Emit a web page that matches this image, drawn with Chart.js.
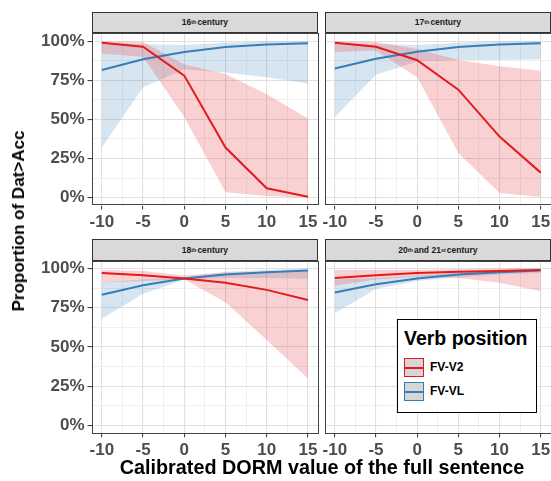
<!DOCTYPE html>
<html>
<head>
<meta charset="utf-8">
<script src="https://cdn.jsdelivr.net/npm/chart.js@4.4.1/dist/chart.umd.min.js"></script>
<style>
  html,body{margin:0;padding:0;background:#fff;}
  #wrap{position:relative;width:551px;height:481px;overflow:hidden;font-family:"Liberation Sans",Arial,sans-serif;}
  #wrap canvas{position:absolute;left:0;top:0;}
  .strip{position:absolute;box-sizing:border-box;background:#d9d9d9;border:1px solid #333;
    font-weight:bold;font-size:8.5px;color:#1a1a1a;display:flex;align-items:center;justify-content:center;}
  .strip sup{font-size:5.5px;vertical-align:3px;margin-right:1px;}
  .ttl{position:absolute;font-weight:bold;color:#000;white-space:nowrap;}
  #legend{position:absolute;left:397px;top:319px;width:140px;height:94px;box-sizing:border-box;border:1px solid #000;background:#fff;}
  #legend .lt{position:absolute;left:6px;top:7px;font-size:19.5px;font-weight:bold;}
  #legend .key{position:absolute;left:6px;width:20px;height:19px;box-sizing:border-box;background:#d6d6d6;border:1.5px solid;}
  #legend .key i{position:absolute;left:0;right:0;top:7.5px;height:2px;}
  #legend .lab{position:absolute;left:32px;font-size:12px;font-weight:bold;}
</style>
</head>
<body>
<div id="wrap">
  <canvas id="c1" width="551" height="481"></canvas>
  <canvas id="c2" width="551" height="481"></canvas>
  <canvas id="c3" width="551" height="481"></canvas>
  <canvas id="c4" width="551" height="481"></canvas>

  <div class="strip" style="left:91.5px;top:11.7px;width:226.8px;height:21.6px">16<sup>th</sup> century</div>
  <div class="strip" style="left:324.5px;top:11.7px;width:226.8px;height:21.6px">17<sup>th</sup> century</div>
  <div class="strip" style="left:91.5px;top:239.3px;width:226.8px;height:21.6px">18<sup>th</sup> century</div>
  <div class="strip" style="left:324.5px;top:239.3px;width:226.8px;height:21.6px">20<sup>th</sup> and 21<sup>st</sup> century</div>

  <div class="ttl" id="ytitle" style="font-size:17px;left:19px;top:221px;transform:translate(-50%,-50%) rotate(-90deg);">Proportion of Dat&gt;Acc</div>
  <div class="ttl" id="xtitle" style="font-size:19.8px;left:322px;top:467px;transform:translate(-50%,-50%);">Calibrated DORM value of the full sentence</div>

  <div id="legend">
    <div class="lt">Verb position</div>
    <div class="key" style="top:38px;border-color:#e41a1c"><i style="background:#e41a1c"></i></div>
    <div class="lab" style="top:40px">FV-V2</div>
    <div class="key" style="top:62px;border-color:#377eb8"><i style="background:#377eb8"></i></div>
    <div class="lab" style="top:64px">FV-VL</div>
  </div>
</div>
<script>
// x = calibrated DORM value
const xVals = [-10, -5, 0, 5, 10, 15];
const xTicks = [-10, -7.5, -5, -2.5, 0, 2.5, 5, 7.5, 10, 12.5, 15];
const yTicks = [0, 0.125, 0.25, 0.375, 0.5, 0.625, 0.75, 0.875, 1];

// 16th century
const v2_16    = [0.99, 0.964, 0.78, 0.32, 0.06, 0.006];
const v2_16_lo = [0.92, 0.90, 0.515, 0.035, 0.01, 0.0];
const v2_16_hi = [1.0, 0.995, 0.85, 0.79, 0.66, 0.505];
const vl_16    = [0.815, 0.884, 0.93, 0.962, 0.979, 0.987];
const vl_16_lo = [0.32, 0.705, 0.82, 0.80, 0.77, 0.73];
const vl_16_hi = [0.99, 0.98, 0.975, 0.99, 1.0, 1.0];

// 17th century
const v2_17    = [0.99, 0.964, 0.878, 0.69, 0.39, 0.16];
const v2_17_lo = [0.93, 0.94, 0.77, 0.285, 0.03, 0.005];
const v2_17_hi = [1.0, 0.995, 0.95, 0.88, 0.84, 0.81];
const vl_17    = [0.825, 0.888, 0.932, 0.962, 0.979, 0.987];
const vl_17_lo = [0.515, 0.785, 0.87, 0.88, 0.88, 0.884];
const vl_17_hi = [0.99, 0.98, 0.975, 0.99, 1.0, 1.0];

// 18th century
const v2_18    = [0.972, 0.958, 0.937, 0.91, 0.864, 0.80];
const v2_18_lo = [0.91, 0.92, 0.93, 0.785, 0.545, 0.30];
const v2_18_hi = [0.99, 0.985, 0.955, 0.975, 0.98, 0.985];
const vl_18    = [0.833, 0.893, 0.937, 0.962, 0.977, 0.987];
const vl_18_lo = [0.68, 0.84, 0.93, 0.94, 0.94, 0.935];
const vl_18_hi = [0.91, 0.93, 0.945, 0.98, 0.99, 1.0];

// 20th and 21st century
const v2_20    = [0.94, 0.958, 0.972, 0.98, 0.985, 0.99];
const v2_20_lo = [0.89, 0.93, 0.95, 0.94, 0.91, 0.855];
const v2_20_hi = [0.99, 0.99, 0.99, 0.995, 1.0, 1.0];
const vl_20    = [0.847, 0.90, 0.937, 0.962, 0.977, 0.987];
const vl_20_lo = [0.715, 0.87, 0.92, 0.945, 0.962, 0.972];
const vl_20_hi = [0.93, 0.94, 0.955, 0.975, 0.99, 1.0];

const RED = '#e41a1c', BLUE = '#377eb8';
const RED_BAND = 'rgba(228,26,28,0.2)', BLUE_BAND = 'rgba(55,126,184,0.2)';
const FONT = '"Liberation Sans", Arial, sans-serif';

const pts = arr => xVals.map((x,i)=>({x, y:arr[i]}));
const isMaj = (v,k) => Math.abs(v*k - Math.round(v*k)) < 1e-9;

const frame = {
  id:'frame',
  afterDatasetsDraw(c){
    const a = c.chartArea, g = c.ctx;
    g.save(); g.strokeStyle = '#444'; g.lineWidth = 1;
    g.strokeRect(Math.round(a.left)+0.5, Math.round(a.top)+0.5, Math.round(a.right-a.left)-1, Math.round(a.bottom-a.top)-1);
    g.restore();
  }
};

function panel(id, d, pad, yW, showY){
  const line = (data,col)=>({data:pts(data), borderColor:col, borderWidth:2, pointRadius:0, fill:false, tension:0});
  const band = (data,col,fill)=>({data:pts(data), borderWidth:0, pointRadius:0, backgroundColor:col, fill, tension:0});
  new Chart(document.getElementById(id), {
    type:'line',
    data:{datasets:[
      line(d.v2, RED), line(d.vl, BLUE),
      band(d.v2hi, RED_BAND, '+1'), band(d.v2lo, RED_BAND, false),
      band(d.vlhi, BLUE_BAND, '+1'), band(d.vllo, BLUE_BAND, false),
    ]},
    options:{
      responsive:false, animation:false, events:[], devicePixelRatio:1,
      layout:{padding:pad},
      plugins:{legend:{display:false}, tooltip:{enabled:false}},
      scales:{
        x:{type:'linear', min:-11.25, max:16.25,
          afterBuildTicks:s=>{ s.ticks = xTicks.map(v=>({value:v})); },
          afterFit:s=>{ s.height = 26; s.paddingLeft = 0; s.paddingRight = 0; },
          border:{display:false},
          grid:{color:c=>isMaj(c.tick.value/5,1)?'#e0e0e0':'#ebebeb', lineWidth:c=>isMaj(c.tick.value/5,1)?1.1:0.8,
            tickLength:4, tickColor:c=>isMaj(c.tick.value/5,1)?'#444':'rgba(0,0,0,0)'},
          ticks:{autoSkip:false, maxRotation:0, padding:2.5, color:'#4d4d4d', font:{family:FONT, size:17, weight:'bold'},
            callback:v=>isMaj(v/5,1)?String(v):''}
        },
        y:{type:'linear', min:-0.05, max:1.05,
          afterBuildTicks:s=>{ s.ticks = yTicks.map(v=>({value:v})); },
          afterFit:s=>{ s.width = yW; s.paddingTop = 0; s.paddingBottom = 0; },
          border:{display:false},
          grid:{color:c=>isMaj(c.tick.value,4)?'#e0e0e0':'#ebebeb', lineWidth:c=>isMaj(c.tick.value,4)?1.1:0.8,
            tickLength:4, tickColor:c=>(showY && isMaj(c.tick.value,4))?'#444':'rgba(0,0,0,0)'},
          ticks:{display:showY, autoSkip:false, padding:3, color:'#4d4d4d', font:{family:FONT, size:17, weight:'bold'},
            callback:v=>isMaj(v,4)?Math.round(v*100)+'%':''}
        }
      }
    },
    plugins:[frame]
  });
}

panel('c1', {v2:v2_16, v2lo:v2_16_lo, v2hi:v2_16_hi, vl:vl_16, vllo:vl_16_lo, vlhi:vl_16_hi},
  {left:0, top:33.3, right:232.7, bottom:249.5}, 91.5, true);
panel('c2', {v2:v2_17, v2lo:v2_17_lo, v2hi:v2_17_hi, vl:vl_17, vllo:vl_17_lo, vlhi:vl_17_hi},
  {left:0, top:33.3, right:0, bottom:249.5}, 324.5, false);
panel('c3', {v2:v2_18, v2lo:v2_18_lo, v2hi:v2_18_hi, vl:vl_18, vllo:vl_18_lo, vlhi:vl_18_hi},
  {left:0, top:260.7, right:232.7, bottom:21.7}, 91.5, true);
panel('c4', {v2:v2_20, v2lo:v2_20_lo, v2hi:v2_20_hi, vl:vl_20, vllo:vl_20_lo, vlhi:vl_20_hi},
  {left:0, top:260.7, right:0, bottom:21.7}, 324.5, false);
</script>
</body>
</html>
